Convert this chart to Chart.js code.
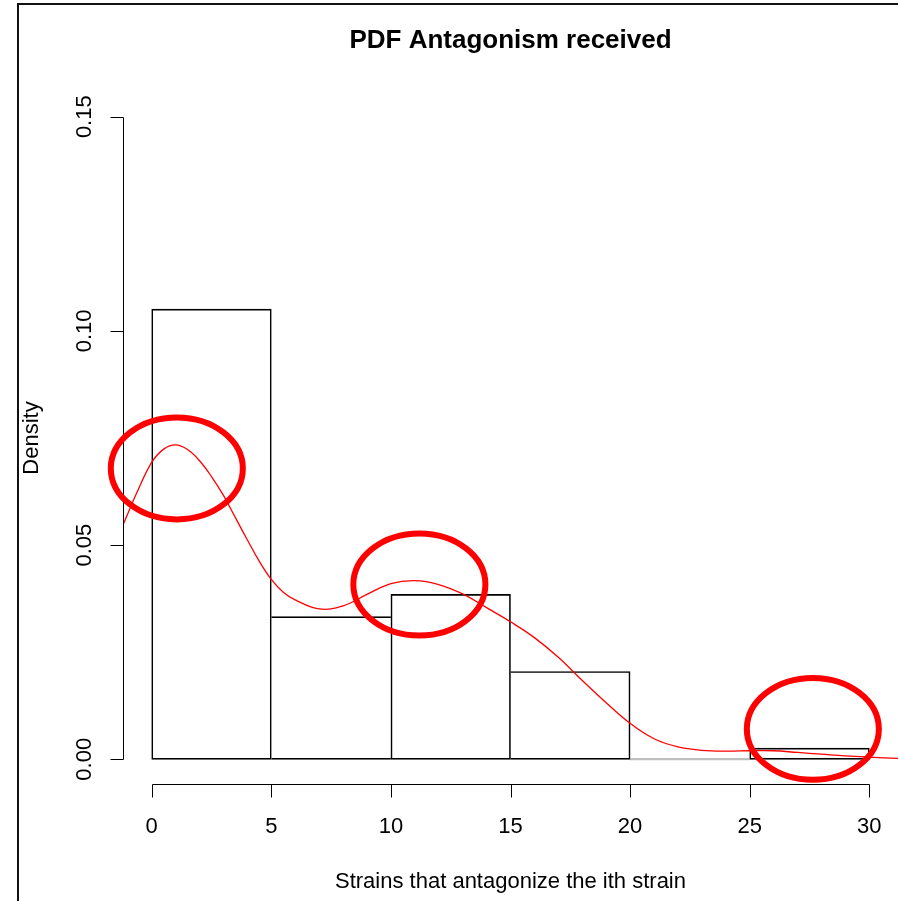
<!DOCTYPE html>
<html>
<head>
<meta charset="utf-8">
<script src="https://cdn.jsdelivr.net/npm/chart.js@4.4.1/dist/chart.umd.min.js"></script>
<style>
  body { margin: 0; background: #fff; }
  #wrap { width: 898px; height: 901px; }
</style>
</head>
<body>
<div id="wrap"><canvas id="hist-chart"></canvas></div>
<script>
//Histogram bins (density scale)
var binStarts = [0, 5, 10, 15, 20, 25];
var binWidth = 5;
var binDensity = [0.1051, 0.0333, 0.0385, 0.0205, 0, 0.0026];

//Kernel density curve
var curveX = [-1.2, -0.6, 0, 0.5, 1, 1.5, 2, 2.5, 3, 3.5, 4, 4.5, 5, 5.5, 6, 7, 8, 9, 10, 11, 12, 13, 14, 15,
  16, 17, 18, 19, 20, 21, 22, 23, 24, 25, 26, 27, 28, 29, 30, 31.2];
var curveY = [0.0547, 0.0625, 0.0693, 0.0724, 0.0734, 0.0723, 0.0697, 0.0660, 0.0616, 0.0564, 0.0512, 0.0462,
  0.0420, 0.0390, 0.0372, 0.0351, 0.0358, 0.0385, 0.0410, 0.0417, 0.0408, 0.0386, 0.0354, 0.0321,
  0.0284, 0.0238, 0.0184, 0.0132, 0.0084, 0.0048, 0.0029, 0.0021, 0.0019, 0.0020, 0.0020, 0.0016,
  0.0012, 0.0008, 0.0005, 0.0002];

//Axis ticks
var xTicks = [0, 5, 10, 15, 20, 25, 30];
var xTickLabels = ["0", "5", "10", "15", "20", "25", "30"];
var yTicks = [0, 0.05, 0.10, 0.15];
var yTickLabels = ["0.00", "0.05", "0.10", "0.15"];

//Hand drawn red circles (centre in data units)
var markX = [1.05, 11.19, 27.64];
var markY = [0.0679, 0.0408, 0.0071];
var markRadiusX = 2.76;
var markRadiusY = 0.0119;

var chartTitle = "PDF Antagonism received";
var xTitle = "Strains that antagonize the ith strain";
var yTitle = "Density";

var baseFont = "'Liberation Sans', Arial, Helvetica, sans-serif";

//Draw the R style axes, frame and the circles
var rStylePlugin = {
  id: 'rStyle',
  afterDraw: function(chart) {
    var ctx = chart.ctx;
    var xs = chart.scales.x;
    var ys = chart.scales.y;
    var area = chart.chartArea;
    ctx.save();

    // frame lines left and top
    ctx.fillStyle = '#111';
    ctx.fillRect(17, 3, 2, chart.height - 3);
    ctx.fillRect(17, 3, chart.width - 17, 2);

    ctx.strokeStyle = '#000';
    ctx.lineWidth = 1;
    ctx.fillStyle = '#000';
    ctx.font = '22px ' + baseFont;

    // x axis
    var axY = Math.round(area.bottom) - 0.5;
    ctx.beginPath();
    ctx.moveTo(Math.round(xs.getPixelForValue(xTicks[0])) + 0.5, axY);
    ctx.lineTo(Math.round(xs.getPixelForValue(xTicks[xTicks.length - 1])) + 0.5, axY);
    for (var i = 0; i < xTicks.length; i++) {
      var px = Math.round(xs.getPixelForValue(xTicks[i])) + 0.5;
      ctx.moveTo(px, axY);
      ctx.lineTo(px, axY + 13);
    }
    ctx.stroke();
    ctx.textAlign = 'center';
    ctx.textBaseline = 'middle';
    for (var i = 0; i < xTicks.length; i++) {
      ctx.fillText(xTickLabels[i], xs.getPixelForValue(xTicks[i]), area.bottom + 42);
    }
    ctx.fillText(xTitle, (area.left + area.right) / 2, area.bottom + 97);

    // y axis
    var axX = Math.round(area.left) + 0.5;
    ctx.beginPath();
    ctx.moveTo(axX, Math.round(ys.getPixelForValue(yTicks[0])) + 0.5);
    ctx.lineTo(axX, Math.round(ys.getPixelForValue(yTicks[yTicks.length - 1])) + 0.5);
    for (var j = 0; j < yTicks.length; j++) {
      var py = Math.round(ys.getPixelForValue(yTicks[j])) + 0.5;
      ctx.moveTo(axX, py);
      ctx.lineTo(axX - 13, py);
    }
    ctx.stroke();
    for (var j = 0; j < yTicks.length; j++) {
      ctx.save();
      ctx.translate(area.left - 38, ys.getPixelForValue(yTicks[j]));
      ctx.rotate(-Math.PI / 2);
      ctx.fillText(yTickLabels[j], 0, 0);
      ctx.restore();
    }
    ctx.save();
    ctx.translate(area.left - 91, (ys.getPixelForValue(yTicks[0]) + ys.getPixelForValue(yTicks[yTicks.length - 1])) / 2);
    ctx.rotate(-Math.PI / 2);
    ctx.fillText(yTitle, 0, 0);
    ctx.restore();

    // red circles
    ctx.strokeStyle = '#ff0000';
    ctx.lineWidth = 6;
    for (var k = 0; k < markX.length; k++) {
      var cx = xs.getPixelForValue(markX[k]);
      var cy = ys.getPixelForValue(markY[k]);
      var rx = Math.abs(xs.getPixelForValue(markX[k] + markRadiusX) - cx);
      var ry = Math.abs(ys.getPixelForValue(markY[k] + markRadiusY) - cy);
      ctx.beginPath();
      ctx.ellipse(cx, cy, rx, ry, 0, 0, Math.PI * 2);
      ctx.stroke();
    }
    ctx.restore();
  }
};

//Shared bar edges are drawn once, by the taller bar
var barBorder = function(i) {
  var h = binDensity[i];
  var prev = i > 0 ? binDensity[i - 1] : null;
  var next = i < binDensity.length - 1 ? binDensity[i + 1] : null;
  return {
    top: 1,
    bottom: 1,
    left: (prev === null || prev <= h) ? 1 : 0,
    right: (next === null || next < h) ? 1 : 0
  };
};

var createChart = function() {
  var ctx = document.getElementById('hist-chart').getContext('2d');
  var barData = binStarts.map(function(s, i) {
    return { x: s + binWidth / 2, y: binDensity[i] };
  });
  var curveData = curveX.map(function(x, i) {
    return { x: x, y: curveY[i] };
  });

  var myChart = new Chart(ctx, {
    type: 'bar',
    data: {
      datasets: [{
        type: 'line',
        label: 'density',
        data: curveData,
        borderColor: '#ff0000',
        borderWidth: 1.3,
        pointRadius: 0,
        fill: false,
        tension: 0.4,
        order: 0
      }, {
        type: 'bar',
        label: 'histogram',
        data: barData,
        backgroundColor: 'rgba(0,0,0,0)',
        borderColor: '#000',
        borderWidth: function(c) { return barBorder(c.dataIndex); },
        borderSkipped: false,
        barPercentage: 1,
        categoryPercentage: 1,
        minBarLength: 1,
        order: 1
      }]
    },
    options: {
      responsive: true,
      maintainAspectRatio: false,
      animation: false,
      layout: { padding: { left: 123, right: 0, top: 0, bottom: 116 } },
      plugins: {
        legend: { display: false },
        tooltip: { enabled: false },
        title: {
          display: true,
          text: chartTitle,
          color: '#000',
          font: { family: baseFont, size: 26, weight: 'bold', lineHeight: 1.2 },
          padding: { top: 25, bottom: 34.8 }
        }
      },
      scales: {
        x: {
          type: 'linear',
          min: -1.2,
          max: 31.2,
          offset: false,
          display: false,
          afterBuildTicks: function(axis) {
            axis.ticks = xTicks.map(function(v) { return { value: v }; });
          }
        },
        y: {
          type: 'linear',
          min: -0.006,
          max: 0.156,
          display: false
        }
      }
    },
    plugins: [rStylePlugin]
  });
};

createChart();
</script>
</body>
</html>
